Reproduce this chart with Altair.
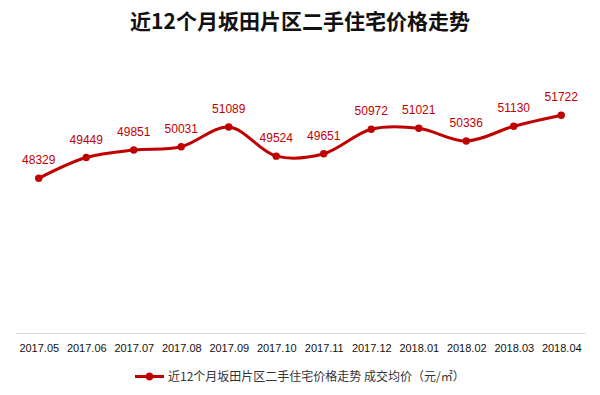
import altair as alt
import pandas as pd

months = ["2017.05", "2017.06", "2017.07", "2017.08", "2017.09", "2017.10",
          "2017.11", "2017.12", "2018.01", "2018.02", "2018.03", "2018.04"]
prices = [48329, 49449, 49851, 50031, 51089, 49524, 49651, 50972, 51021, 50336, 51130, 51722]
series_name = "近12个月坂田片区二手住宅价格走势 成交均价（元/㎡）"

df = pd.DataFrame({"month": months, "price": prices, "series": series_name})

RED = "#C00000"
CJK = "Noto Sans CJK SC"

x = alt.X("month:N", sort=months, title=None,
          scale=alt.Scale(paddingInner=0, paddingOuter=0.5),
          axis=alt.Axis(labelAngle=0, labelFont="Liberation Sans", labelFontSize=11,
                        labelColor="#111", labelPadding=9, ticks=False,
                        domainColor="#d9d9d9", grid=False))
y = alt.Y("price:Q", title=None, scale=alt.Scale(domain=[40000, 54000], zero=False),
          axis=None)

sym = "M-1,-0.11L1,-0.11L1,0.11L-1,0.11Z M0.28,0A0.28,0.28 0 1,1 -0.28,0A0.28,0.28 0 1,1 0.28,0Z"

line = alt.Chart(df).mark_line(interpolate="catmull-rom", strokeWidth=3).encode(
    x=x, y=y,
    color=alt.Color("series:N", scale=alt.Scale(range=[RED]), title=None,
                    legend=alt.Legend(orient="none", legendX=120, legendY=289,
                                      symbolType=sym, symbolSize=841,
                                      symbolStrokeWidth=0, symbolFillColor=RED,
                                      labelFont=CJK, labelFontSize=12, labelColor="#333",
                                      labelOffset=4, labelLimit=400))
)
pts = alt.Chart(df).mark_point(filled=True, size=55, opacity=1, color=RED).encode(x=x, y=y)
labels = alt.Chart(df).mark_text(dy=-18, fontSize=12, color=RED, font="Liberation Sans").encode(
    x=x, y=y, text="price:Q")

chart = alt.layer(line, pts, labels).properties(
    width=570, height=260,
    title=alt.TitleParams("近12个月坂田片区二手住宅价格走势", font=CJK, fontSize=21,
                          fontWeight="bold", color="#111", anchor="middle", offset=40),
    autosize=alt.AutoSizeParams(type="none"),
    padding={"left": 15, "top": 73, "right": 15, "bottom": 62},
    background="white",
).configure_view(stroke=None)

chart.save("out.html", embed_options={"renderer": "svg", "actions": False})
